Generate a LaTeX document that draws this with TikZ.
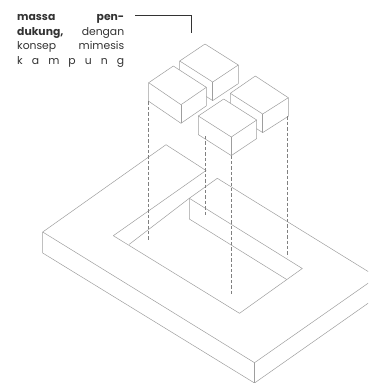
\documentclass[tikz,border=0pt]{standalone}
\usepackage{fontspec}
\setmainfont{Poppins}
\usetikzlibrary{calc, positioning}
\newcommand{\linewide}{107pt}
\newcommand{\wallheight}{18.6}
\tikzstyle{edge} = [% outlines of the massing
  draw=black!38,
  line width=0.5pt,
  line join=round
  ]
\tikzstyle{mass} = [% one box, white so that it hides what is behind
  edge,
  fill=white
  ]
\tikzstyle{drop} = [% projection from a box down to the base
  draw=black!50,
  line width=0.5pt,
  dash pattern=on 3.4pt off 2pt
  ]
\tikzstyle{leader} = [% line from the label to the boxes
  draw=black!80,
  line width=0.6pt
  ]
\tikzstyle{caption} = [% the label text
  inner sep=0pt,
  anchor=north west,
  align=left,
  text=black!80,
  font=\fontsize{10.8}{14.6}\selectfont
  ]
% box: name, top corners back/left/front/right
\newcommand{\massbox}[5]{%
  \coordinate (#1L) at (#3);
  \coordinate (#1F) at (#4);
  \coordinate (#1R) at (#5);
  \draw[mass] (#2) -- (#1L) -- ++(0,\wallheight) coordinate (#1l)
    -- ($(#1F)+(0,\wallheight)$) coordinate (#1f) -- ($(#1R)+(0,\wallheight)$) coordinate (#1r)
    -- (#1R) -- cycle;
  \draw[edge] (#1L) -- (#1F) -- (#1R);
  \draw[edge] (#1F) -- (#1f);
}
\begin{document}
\begin{tikzpicture}[x=1pt, y=-1pt]
\clip (0,0) rectangle (368,383);

%%% Base
\coordinate (baseW) at (42.7,232);
\coordinate (baseN) at (166,144.7);
\coordinate (baseE) at (377,277);
\coordinate (baseS) at (254.5,362.7);
\coordinate (notchA) at (206,170.5);
\coordinate (notchB) at (113.3,235.7);
\coordinate (notchC) at (239.5,313.3);
\coordinate (notchD) at (302.3,268.5);
\coordinate (stepW) at (189.3,198.3);
\coordinate (stepN) at (217.3,178.3);
\coordinate (stepL) at (129,244.5);
\coordinate (stepw) at (189.3,219);
\coordinate (stepR) at (286.7,279.5);

\draw[edge] (baseW) -- (baseN) -- (notchA) -- (notchB) -- (notchC) -- (notchD)
  -- (stepW) -- (stepN) -- (baseE) -- (baseS) -- cycle;
\draw[edge] (baseW) -- ++(0,21) coordinate (basew) -- (254.5,383) coordinate (bases)
  -- (377,297) coordinate (basee);
\draw[edge] (baseS) -- (bases);
\draw[edge] (baseE) -- (basee);
\draw[edge] (stepW) -- (stepL);
\draw[edge] (stepW) -- (stepw) -- (stepR);

%%% Boxes
\massbox{back}{205,44}{179.7,61}{212.7,82}{238.3,65}
\massbox{left}{173.3,66}{148.7,82.7}{181,104.7}{206.3,87.3}
\massbox{right}{255.3,76}{230.3,93.3}{262.7,114}{288.3,97.7}
\massbox{front}{223.7,99}{198.3,116}{231.3,137}{256.7,120}

%%% Projections
\coordinate (dropA) at (148.7,241);
\coordinate (dropB) at (205.7,216.7);
\coordinate (frontb) at (205.7,136);
\coordinate (dropC) at (231.3,295);
\coordinate (dropD) at (287.6,256.7);
\coordinate (rightb) at (287.6,116.3);
\draw[drop] (leftl) -- (dropA);
\draw[drop] (frontb) -- (dropB);
\draw[drop] (frontf) -- (dropC);
\draw[drop] (rightb) -- (dropD);

%%% Label
\node[caption] (label) at (17,14.2) {%
  \makebox[\linewide][s]{\textbf{massa\ pen-}}\\
  \makebox[\linewide][s]{\textbf{dukung,}\ dengan}\\
  \makebox[\linewide][s]{konsep\ mimesis}\\
  \makebox[\linewide][s]{k\ a\ m\ p\ u\ n\ g}};
\coordinate (leaderStart) at (135.3,15.3);
\coordinate (leaderEnd) at (191.5,33);
\draw[leader] (leaderStart) -| (leaderEnd);

\end{tikzpicture}
\end{document}
